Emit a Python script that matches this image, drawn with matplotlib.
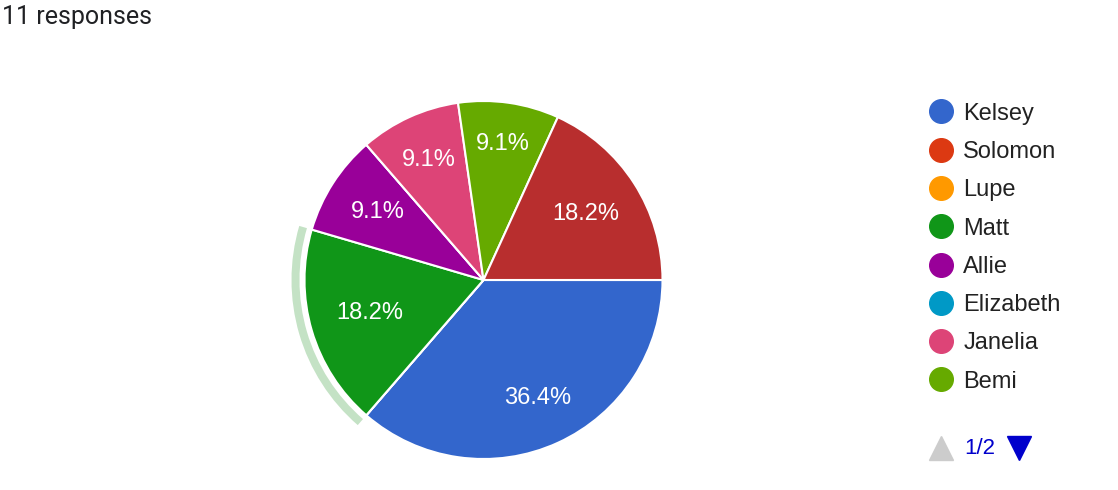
import matplotlib.pyplot as plt
from matplotlib.patches import Wedge
from matplotlib.lines import Line2D

# data
names = ['Kelsey', 'Solomon', 'Lupe', 'Matt', 'Allie', 'Elizabeth', 'Janelia', 'Bemi', 'Other']
counts = [4, 0, 0, 2, 1, 0, 1, 1, 2]
colors = ['#3366cc', '#dc3912', '#ff9900', '#109618', '#990099',
          '#0099c6', '#dd4477', '#66aa00', '#b82e2e']
legend_page = names[:8]
title = '11 responses'

W, H = 1118, 490
fig = plt.figure(figsize=(W / 100, H / 100), dpi=100)
ax = fig.add_axes([0, 0, 1, 1])

cx, cy, r = 483.5, 210, 179


def fmt(p):
    return f'{p:.1f}%' if p > 0.5 else ''


wedges, texts, autotexts = ax.pie(
    counts, colors=colors, startangle=0, counterclock=False,
    center=(cx, cy), radius=r, autopct=fmt, pctdistance=0.7,
    wedgeprops=dict(edgecolor='white', linewidth=1.5),
    textprops=dict(color='white', fontsize=17, family='Liberation Sans'),
    frame=True)
ax.set_xlim(0, W)
ax.set_ylim(0, H)
ax.set_axis_off()

# label distances per slice (google fits them in the slice)
dists = [0.725, 0.7, 0.7, 0.66, 0.70, 0.7, 0.735, 0.77, 0.68]
for t, d in zip(autotexts, dists):
    x, y = t.get_position()
    dx, dy = x - cx, y - cy
    n = (dx ** 2 + dy ** 2) ** 0.5
    if n > 0:
        t.set_position((cx + dx / n * d * r, cy + dy / n * d * r))

# hover ring on Matt slice
m = wedges[3]
ax.add_patch(Wedge((cx, cy), 192, m.theta1, m.theta2, width=8,
                   facecolor='#c4e2c5', edgecolor='none'))

ax.text(1.5, H - 24.3, title, fontsize=18, family='Roboto',
        color='#202124', va='baseline', ha='left')

handles = [Line2D([], [], marker='o', linestyle='', markersize=17,
                  markerfacecolor=c, markeredgecolor=c)
           for c in colors[:8]]
leg = ax.legend(handles, legend_page, loc='upper left',
                bbox_to_anchor=(928.9 / W, (H - 102.7) / H), frameon=False,
                prop=dict(family='Liberation Sans', size=17),
                handlelength=1.0, handletextpad=0.46, labelspacing=0.69,
                borderpad=0, borderaxespad=0)
for t in leg.get_texts():
    t.set_color('#222222')

# pager
ax.plot([941], [H - 448], marker='^', markersize=17.5, color='#cccccc',
        linestyle='')
ax.plot([1018.7], [H - 448], marker='v', markersize=17.5, color='#0000cc',
        linestyle='')
ax.text(980, H - 448, '1/2', fontsize=16, family='Liberation Sans',
        color='#0000cc', ha='center', va='center')

fig.savefig('out.png', dpi=100)
